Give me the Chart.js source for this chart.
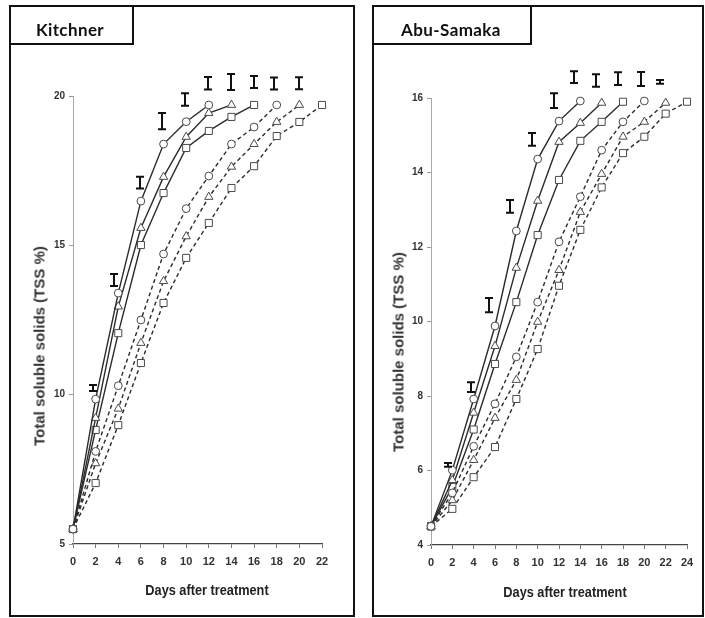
<!DOCTYPE html>
<html><head><meta charset="utf-8">
<script src="https://cdn.jsdelivr.net/npm/chart.js@4"></script>
<style>
html,body{margin:0;padding:0;background:#fff;}
body{width:705px;height:618px;position:relative;overflow:hidden;font-family:'Liberation Sans',Arial,sans-serif;}
.panel{position:absolute;box-sizing:border-box;border:2px solid #111;}
.tbox{position:absolute;box-sizing:border-box;border:2px solid #111;background:#fff;z-index:2;}
.ttl{position:absolute;font-family:Lato,'Open Sans',sans-serif;font-weight:bold;font-size:17px;line-height:17px;letter-spacing:0.4px;white-space:nowrap;color:#111;z-index:3;transform:translateX(-50%);}
canvas{position:absolute;}
.ytitle{position:absolute;font-weight:bold;font-size:15px;color:#333;white-space:nowrap;transform:translate(-50%,-50%) rotate(-90deg);line-height:15px;}
.xtitle{position:absolute;font-weight:bold;font-size:15px;color:#222;white-space:nowrap;transform:translate(-50%,-50%) scaleX(0.85);line-height:15px;}
</style></head>
<body>
<div class="panel" style="left:9px;top:5px;width:346px;height:612px;"></div>
<div class="panel" style="left:372px;top:5px;width:332px;height:612px;"></div>
<div class="tbox" style="left:9px;top:5px;width:125px;height:40px;"></div>
<div class="tbox" style="left:372px;top:5px;width:160px;height:40px;"></div>
<div class="ttl" style="left:70px;top:21px;">Kitchner</div>
<div class="ttl" style="left:451px;top:21px;">Abu-Samaka</div>
<canvas id="c1" width="342" height="607" style="left:11px;top:7px;width:342px;height:607px;"></canvas>
<canvas id="c2" width="328" height="607" style="left:374px;top:7px;width:328px;height:607px;"></canvas>
<div class="ytitle" style="left:39px;top:346px;">Total soluble solids (TSS %)</div>
<div class="ytitle" style="left:398px;top:352px;">Total soluble solids (TSS %)</div>
<div class="xtitle" style="left:207px;top:589px;">Days after treatment</div>
<div class="xtitle" style="left:565px;top:591px;">Days after treatment</div>
<script>
// ---------- Kitchner ----------
const kDays = [0,2,4,6,8,10,12,14,16,18,20,22];
const kSolidCircle   = [5.5, 9.85, 13.40, 16.48, 18.39, 19.14, 19.70];
const kSolidTriangle = [5.5, 9.22, 12.95, 15.58, 17.29, 18.63, 19.43, 19.70];
const kSolidSquare   = [5.5, 8.82, 12.06, 15.01, 16.75, 18.26, 18.83, 19.30, 19.70];
const kDashCircle    = [5.5, 8.10, 10.30, 12.50, 14.71, 16.23, 17.32, 18.39, 18.96, 19.70];
const kDashTriangle  = [5.5, 7.70, 9.53, 11.73, 13.80, 15.30, 16.62, 17.63, 18.39, 19.13, 19.70];
const kDashSquare    = [5.5, 7.04, 8.98, 11.06, 13.07, 14.58, 15.75, 16.92, 17.65, 18.66, 19.13, 19.70];
const kErrDays = [1.8, 3.6, 5.9, 7.9, 9.9, 11.9, 14.0, 16.0, 17.8, 20.0];
const kErrMid  = [10.22, 13.84, 17.10, 19.16, 19.88, 20.43, 20.47, 20.47, 20.42, 20.43];
const kErrHalf = [0.10, 0.20, 0.20, 0.27, 0.21, 0.21, 0.27, 0.20, 0.20, 0.20];
const kXMax = 22, kYMin = 5, kYMax = 20, kYStep = 5;

// ---------- Abu-Samaka ----------
const aDays = [0,2,4,6,8,10,12,14,16,18,20,22,24];
const aSolidCircle   = [4.5, 6.01, 7.92, 9.88, 12.43, 14.36, 15.38, 15.92];
const aSolidTriangle = [4.5, 5.74, 7.55, 9.34, 11.44, 13.24, 14.82, 15.33, 15.87];
const aSolidSquare   = [4.5, 5.56, 7.10, 8.86, 10.52, 12.32, 13.80, 14.85, 15.36, 15.90];
const aDashCircle    = [4.5, 5.40, 6.65, 7.79, 9.05, 10.52, 12.14, 13.35, 14.60, 15.36, 15.92];
const aDashTriangle  = [4.5, 5.20, 6.28, 7.41, 8.43, 9.99, 11.38, 12.94, 13.96, 14.96, 15.36, 15.87];
const aDashSquare    = [4.5, 4.97, 5.82, 6.63, 7.92, 9.26, 10.96, 12.46, 13.60, 14.52, 14.96, 15.58, 15.90];
const aErrDays = [1.6, 3.75, 5.45, 7.4, 9.5, 11.5, 13.4, 15.5, 17.5, 19.7, 21.5];
const aErrMid  = [6.15, 8.24, 10.44, 13.09, 14.89, 15.93, 16.56, 16.47, 16.52, 16.51, 16.43];
const aErrHalf = [0.05, 0.13, 0.19, 0.17, 0.17, 0.20, 0.16, 0.17, 0.17, 0.19, 0.05];
const aXMax = 24, aYMin = 4, aYMax = 16, aYStep = 2;

function pts(days, vals){ return vals.map((v,i)=>({x:days[i], y:v})); }
function ds(days, vals, style, dashed){
  return {
    data: pts(days, vals),
    borderColor:'#2b2b2b', borderWidth:1.4, borderDash: dashed?[4,3]:[],
    pointStyle: style,
    pointRadius: style==='rect'?5:(style==='triangle'?4.8:3.9),
    pointBackgroundColor:'#fff', pointBorderColor:'#4a4a4a', pointBorderWidth:1,
    tension:0, fill:false, clip:false
  };
}
function errPlugin(xs, mids, halfs){
  return {id:'errbars', afterDatasetsDraw(chart){
    const ctx = chart.ctx, xS = chart.scales.x, yS = chart.scales.y;
    ctx.save(); ctx.strokeStyle='#111'; ctx.lineWidth=2;
    xs.forEach((xv,i)=>{
      const px = Math.round(xS.getPixelForValue(xv));
      const t = yS.getPixelForValue(mids[i]+halfs[i]);
      const b = yS.getPixelForValue(mids[i]-halfs[i]);
      ctx.beginPath();
      ctx.moveTo(px,t); ctx.lineTo(px,b);
      ctx.moveTo(px-4,t); ctx.lineTo(px+4,t);
      ctx.moveTo(px-4,b); ctx.lineTo(px+4,b);
      ctx.stroke();
    });
    ctx.restore();
  }};
}
function makeChart(id, days, sets, xMax, yMin, yMax, yStep, yW, xH, padR, padT, err){
  return new Chart(document.getElementById(id), {
    type:'line',
    data:{datasets:[
      ds(days, sets[3], 'circle', true), ds(days, sets[4], 'triangle', true), ds(days, sets[5], 'rect', true),
      ds(days, sets[0], 'circle', false), ds(days, sets[1], 'triangle', false), ds(days, sets[2], 'rect', false)
    ]},
    options:{
      responsive:false, animation:false, devicePixelRatio:1,
      layout:{padding:{left:0, right:padR, top:padT, bottom:0}},
      plugins:{legend:{display:false}, tooltip:{enabled:false}},
      scales:{
        x:{type:'linear', min:0, max:xMax,
           ticks:{stepSize:2, padding:7, color:'#333', font:{family:'Liberation Sans', size:11, weight:'bold'}},
           grid:{drawOnChartArea:false, drawTicks:true, tickLength:4, color:'#777'},
           border:{color:'#444', width:1.3},
           afterFit(s){ s.height = xH; }},
        y:{type:'linear', min:yMin, max:yMax,
           ticks:{stepSize:yStep, padding:4, color:'#333', font:{family:'Liberation Sans', size:10, weight:'bold'}},
           grid:{drawOnChartArea:false, drawTicks:true, tickLength:4, color:'#999'},
           border:{color:'#a8a8a8', width:1},
           afterFit(s){ s.width = yW; }}
      }
    },
    plugins:[err]
  });
}
makeChart('c1', kDays, [kSolidCircle,kSolidTriangle,kSolidSquare,kDashCircle,kDashTriangle,kDashSquare],
  kXMax, kYMin, kYMax, kYStep, 62, 70, 31, 89, errPlugin(kErrDays,kErrMid,kErrHalf));
makeChart('c2', aDays, [aSolidCircle,aSolidTriangle,aSolidSquare,aDashCircle,aDashTriangle,aDashSquare],
  aXMax, aYMin, aYMax, aYStep, 57, 69, 15, 91, errPlugin(aErrDays,aErrMid,aErrHalf));
</script>
</body></html>
